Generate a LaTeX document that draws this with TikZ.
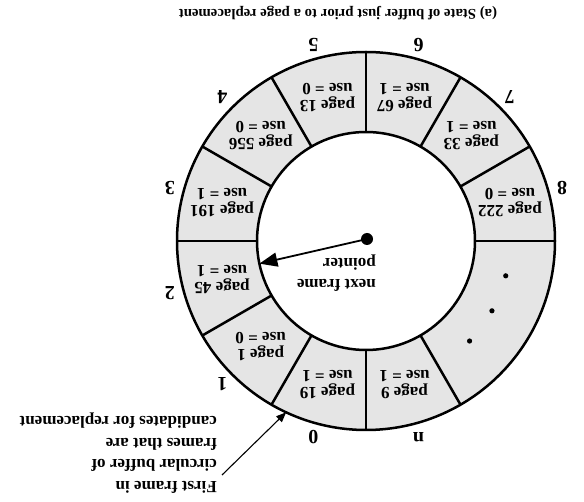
\documentclass[tikz,border=0pt]{standalone}
\usepackage{fontspec}
\setmainfont{Liberation Serif}
\usetikzlibrary{arrows.meta}
\begin{document}
\begin{tikzpicture}[x=1pt,y=1pt,
  every node/.style={rotate=180, inner sep=0pt},
  ring/.style={line width=2.5pt},
  framelabel/.style={font=\fontsize{17}{17}\bfseries\selectfont, align=center},
  slotnum/.style={font=\fontsize{20}{20}\bfseries\selectfont},
  note/.style={font=\fontsize{17}{21.5}\bfseries\selectfont, align=left},
  caption/.style={font=\fontsize{14.8}{15}\bfseries\selectfont},
]
\useasboundingbox (0,0) rectangle (584,501);
\coordinate (c) at (366,260);

% the buffer ring
\fill[black!10] (c) circle (189);
\fill[white] (c) circle (109);
\foreach \a in {0,30,...,300}
  \draw[ring] (c) ++(\a:109) -- ++(\a:80);
\draw[ring] (c) circle (189);
\draw[ring] (c) circle (109);

% frame contents
\foreach \a/\p/\u in {15/222/0, 45/33/1, 75/67/1, 105/13/0, 135/556/0,
                      165/191/1, 195/45/1, 225/1/0, 255/19/1, 285/9/1}
  \node[framelabel] (f\a) at ([shift={(\a:149)}]c) {page \p\\use = \u};

% frame numbers
\foreach \a/\t in {15/8, 45/7, 75/6, 105/5, 135/4, 165/3, 195/2, 225/1, 255/0, 285/n}
  \node[slotnum] (n\a) at ([shift={(\a:203)}]c) {\t};

% elided frames
\foreach \a in {346,331,316}
  \fill ([shift={(\a:144)}]c) circle (2.6);

% next frame pointer
\node[circle, fill, minimum size=12pt] (ptr) at (367,262) {};
\coordinate (ptrtip) at ([shift={(192:109)}]c);
\draw[line width=1.8pt, -{Triangle[length=18pt,width=14pt]}] (ptr.center) -- (ptrtip);
\node[note, anchor=west] (ptrlabel) at (376,228) {next frame\\pointer};

% first frame annotation
\node[note, anchor=west] (first) at (217,48) {First frame in\\circular buffer of\\frames that are\\candidates for replacement};
\coordinate (firstfrom) at (222,26);
\coordinate (firsttip) at ([shift={(245:189)}]c);
\draw[line width=1.1pt, -{Triangle[length=10pt,width=8pt]}] (firstfrom) -- (firsttip);

% caption
\node[caption] (cap) at (338,488) {(a) State of buffer just prior to a page replacement};
\end{tikzpicture}
\end{document}
